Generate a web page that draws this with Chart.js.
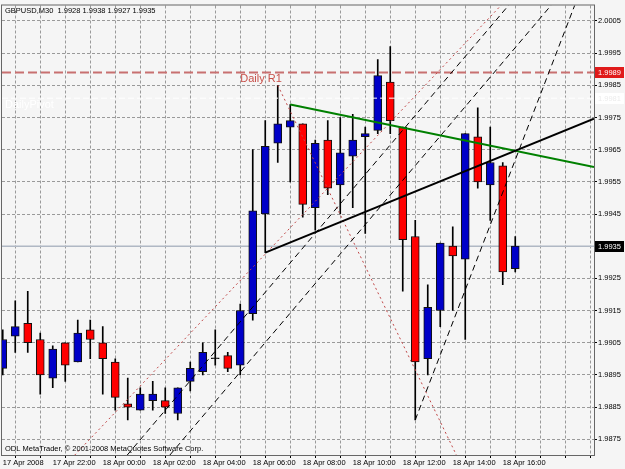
<!DOCTYPE html>
<html>
<head>
<meta charset="utf-8">
<script src="https://cdn.jsdelivr.net/npm/chart.js@4.4.1/dist/chart.umd.min.js"></script>
<style>
  html, body { margin: 0; padding: 0; background: #f5f5f5; }
  #wrap { width: 625px; height: 469px; }
</style>
</head>
<body>
<div id="wrap"><canvas id="chart" width="625" height="469"></canvas></div>
<script>
// GBPUSD M30 candles, 17 Apr 20:00 .. 18 Apr 16:30 (index 0..41)
const symbolTitle = 'GBPUSD,M30  1.9928 1.9938 1.9927 1.9935';
const copyrightText = 'ODL MetaTrader, \u00a9 2001-2008 MetaQuotes Software Corp.';

const opens  = [1.9897, 1.9907, 1.9911, 1.9906, 1.9894, 1.9905, 1.9899, 1.9909, 1.9905, 1.9899,
                1.9886, 1.9884, 1.9887, 1.9887, 1.9883, 1.9893, 1.9896, 1.9900, 1.9901, 1.9898,
                1.9914, 1.9945, 1.9967, 1.9972, 1.9973, 1.9947, 1.9968, 1.9954, 1.9963, 1.9969,
                1.9971, 1.9986, 1.9972, 1.9938, 1.9900, 1.9915, 1.9935, 1.9931, 1.9969, 1.9954,
                1.9960, 1.9928];
const highs  = [1.9909, 1.9918, 1.9921, 1.9908, 1.9904, 1.9905, 1.9912, 1.9912, 1.9910, 1.9900,
                1.9894, 1.9891, 1.9893, 1.9891, 1.9891, 1.9899, 1.9905, 1.9909, 1.9902, 1.9917,
                1.9965, 1.9974, 1.9985, 1.9979, 1.9973, 1.9968, 1.9974, 1.9975, 1.9976, 1.9972,
                1.9993, 1.9997, 1.9972, 1.9943, 1.9923, 1.9936, 1.9941, 1.9970, 1.9978, 1.9972,
                1.9961, 1.9938];
const lows   = [1.9895, 1.9902, 1.9902, 1.9889, 1.9891, 1.9893, 1.9899, 1.9900, 1.9889, 1.9884,
                1.9881, 1.9884, 1.9884, 1.9883, 1.9881, 1.9890, 1.9895, 1.9898, 1.9896, 1.9895,
                1.9912, 1.9933, 1.9961, 1.9955, 1.9944, 1.9940, 1.9951, 1.9945, 1.9947, 1.9939,
                1.9970, 1.9970, 1.9921, 1.9881, 1.9895, 1.9910, 1.9915, 1.9906, 1.9953, 1.9943,
                1.9923, 1.9927];
const closes = [1.9906, 1.9910, 1.9905, 1.9895, 1.9903, 1.9898, 1.9908, 1.9906, 1.9900, 1.9888,
                1.9885, 1.9889, 1.9889, 1.9885, 1.9891, 1.9897, 1.9902, 1.9900, 1.9897, 1.9915,
                1.9946, 1.9966, 1.9973, 1.9974, 1.9948, 1.9967, 1.9953, 1.9964, 1.9968, 1.9970,
                1.9988, 1.9974, 1.9937, 1.9899, 1.9916, 1.9936, 1.9932, 1.9970, 1.9955, 1.9961,
                1.9927, 1.9935];

// time axis labels (bar index -> text)
const timeTickIdx  = [0, 4, 8, 12, 16, 20, 24, 28, 32, 36, 40];
const timeTickText = ['17 Apr 2008', '17 Apr 22:00', '18 Apr 00:00', '18 Apr 02:00', '18 Apr 04:00',
                      '18 Apr 06:00', '18 Apr 08:00', '18 Apr 10:00', '18 Apr 12:00', '18 Apr 14:00',
                      '18 Apr 16:00'];
const priceTicks = [1.9875, 1.9885, 1.9895, 1.9905, 1.9915, 1.9925, 1.9935, 1.9945,
                    1.9955, 1.9965, 1.9975, 1.9985, 1.9995, 2.0005];

// levels
const dailyR1 = 1.9989;
const dailyPivot = 1.9981;
const lastPrice = 1.9935;

// drawn objects: [barIndex, price] end points
const greenTrend = [[23, 1.9979], [47.3, 1.99596]];
const blackTrend = [[21, 1.9933], [47.3, 1.99746]];
const dashLineA  = [[9.94, 1.9870], [40.5, 2.0010]];
const dashLineB  = [[13.35, 1.9870], [43.9, 2.0010]];
const dashLineC  = [[33, 1.9881], [45.77, 2.0010]];
const dotLineUp  = [[5.74, 1.9870], [39.9, 2.0010]];
const dotLineDn  = [[22, 1.9985], [36.3, 1.9870]];

const xMin = -0.06, xMax = 47.3;
const yMin = 1.98701, yMax = 2.00098;

const fontFace = '"Liberation Sans", Arial, sans-serif';

function seg(pts){ return pts.map(p => ({x: p[0], y: p[1]})); }
function hline(v){ return [[xMin, v], [xMax, v]]; }
function lineSet(pts, color, width, dash, order){
    return { type: 'line', data: seg(pts), borderColor: color, borderWidth: width, borderDash: dash,
             pointRadius: 0, fill: false, tension: 0, order: order };
}

const bodyColors = opens.map((o, i) => closes[i] > o ? '#0000c8' : (closes[i] < o ? '#ff0000' : '#000000'));

const mtOverlay = {
    id: 'mtOverlay',
    beforeDraw(chart){
        const ctx = chart.ctx;
        ctx.save();
        ctx.fillStyle = '#f5f5f5';
        ctx.fillRect(0, 0, chart.width, chart.height);
        ctx.restore();
    },
    afterDraw(chart){
        const {ctx, chartArea: a, scales: {x, y}} = chart;
        ctx.save();
        // frame
        ctx.strokeStyle = '#666666';
        ctx.lineWidth = 1;
        ctx.strokeRect(a.left - 0.5, a.top - 0.5, a.right - a.left + 1, a.bottom - a.top + 1);

        // texts on chart
        ctx.font = '7.5px ' + fontFace;
        ctx.fillStyle = '#000000';
        ctx.textBaseline = 'top';
        ctx.textAlign = 'left';
        ctx.fillText(symbolTitle, a.left + 3, a.top + 2);
        ctx.textBaseline = 'bottom';
        ctx.fillText(copyrightText, a.left + 3, a.bottom - 2);

        ctx.font = '11px ' + fontFace;
        ctx.textBaseline = 'top';
        ctx.fillStyle = '#c8504a';
        ctx.fillText('Daily R1', x.getPixelForValue(19), y.getPixelForValue(dailyR1) + 1);
        ctx.fillStyle = '#ffffff';
        ctx.fillText('DailyPivot', a.left + 3, y.getPixelForValue(dailyPivot) + 1);

        // price boxes on the axis
        const boxes = [[dailyR1, '#e01a1a', '#ffffff'], [dailyPivot, '#ffffff', '#ececec'], [lastPrice, '#000000', '#ffffff']];
        ctx.font = '7.5px ' + fontFace;
        ctx.textBaseline = 'middle';
        boxes.forEach(b => {
            const yy = Math.round(y.getPixelForValue(b[0]));
            ctx.fillStyle = b[1];
            ctx.fillRect(a.right + 1, yy - 5, 29, 11);
            ctx.fillStyle = b[2];
            ctx.fillText(b[0].toFixed(4), a.right + 4, yy + 0.5);
        });
        ctx.restore();
    }
};

document.addEventListener('DOMContentLoaded', function(){
    const ctx = document.getElementById('chart');
    new Chart(ctx, {
        type: 'bar',
        data: {
            datasets: [
                lineSet(hline(lastPrice), '#b0b8c4', 1.5, [], 9),
                { type: 'bar', data: highs.map((h, i) => ({x: i, y: [lows[i], h]})), backgroundColor: '#000000',
                  barThickness: 1, grouped: false, order: 8 },
                { type: 'bar', data: opens.map((o, i) => ({x: i, y: [o, closes[i]]})), backgroundColor: bodyColors,
                  borderColor: '#111111', borderWidth: 1, borderSkipped: false, barThickness: 8,
                  minBarLength: 1, grouped: false, order: 7 },
                lineSet(hline(dailyR1), '#c87070', 2, [9, 4], 6),
                lineSet(hline(dailyPivot), '#ffffff', 1, [6, 3], 5),
                lineSet(dotLineUp, '#c04848', 1, [2, 3], 4),
                lineSet(dotLineDn, '#c04848', 1, [2, 3], 4),
                lineSet(dashLineA, '#000000', 1, [6, 4], 3),
                lineSet(dashLineB, '#000000', 1, [6, 4], 3),
                lineSet(dashLineC, '#000000', 1, [6, 4], 3),
                lineSet(greenTrend, '#008000', 2, [], 2),
                lineSet(blackTrend, '#000000', 2, [], 1)
            ]
        },
        options: {
            responsive: false,
            animation: false,
            devicePixelRatio: 1,
            layout: { padding: { left: 2, top: 2, right: 0, bottom: 0 } },
            plugins: { legend: { display: false }, tooltip: { enabled: false }, title: { display: false } },
            scales: {
                x: {
                    type: 'linear', min: xMin, max: xMax, offset: false,
                    afterBuildTicks: s => { s.ticks = []; for (let i = 0; i <= 46; i += 2) s.ticks.push({value: i}); },
                    afterFit: s => { s.height = 14; },
                    grid: { color: '#9a9a9a', lineWidth: 1, tickLength: 3, tickColor: '#000000', tickBorderDash: [] },
                    border: { display: false, dash: [3, 2] },
                    ticks: {
                        autoSkip: false, maxRotation: 0, align: 'start', padding: 0, color: '#000000',
                        font: { family: fontFace, size: 7.5 },
                        callback: v => { const k = timeTickIdx.indexOf(v); return k >= 0 ? timeTickText[k] : ''; }
                    }
                },
                y: {
                    type: 'linear', position: 'right', min: yMin, max: yMax,
                    afterBuildTicks: s => { s.ticks = priceTicks.map(v => ({value: v})); },
                    afterFit: s => { s.width = 31; },
                    grid: { color: '#9a9a9a', lineWidth: 1, tickLength: 3, tickColor: '#000000', tickBorderDash: [] },
                    border: { display: false, dash: [3, 2] },
                    ticks: {
                        padding: 1, color: '#000000', font: { family: fontFace, size: 7.5 },
                        callback: v => v.toFixed(4)
                    }
                }
            }
        },
        plugins: [mtOverlay]
    });
});
</script>
</body>
</html>
